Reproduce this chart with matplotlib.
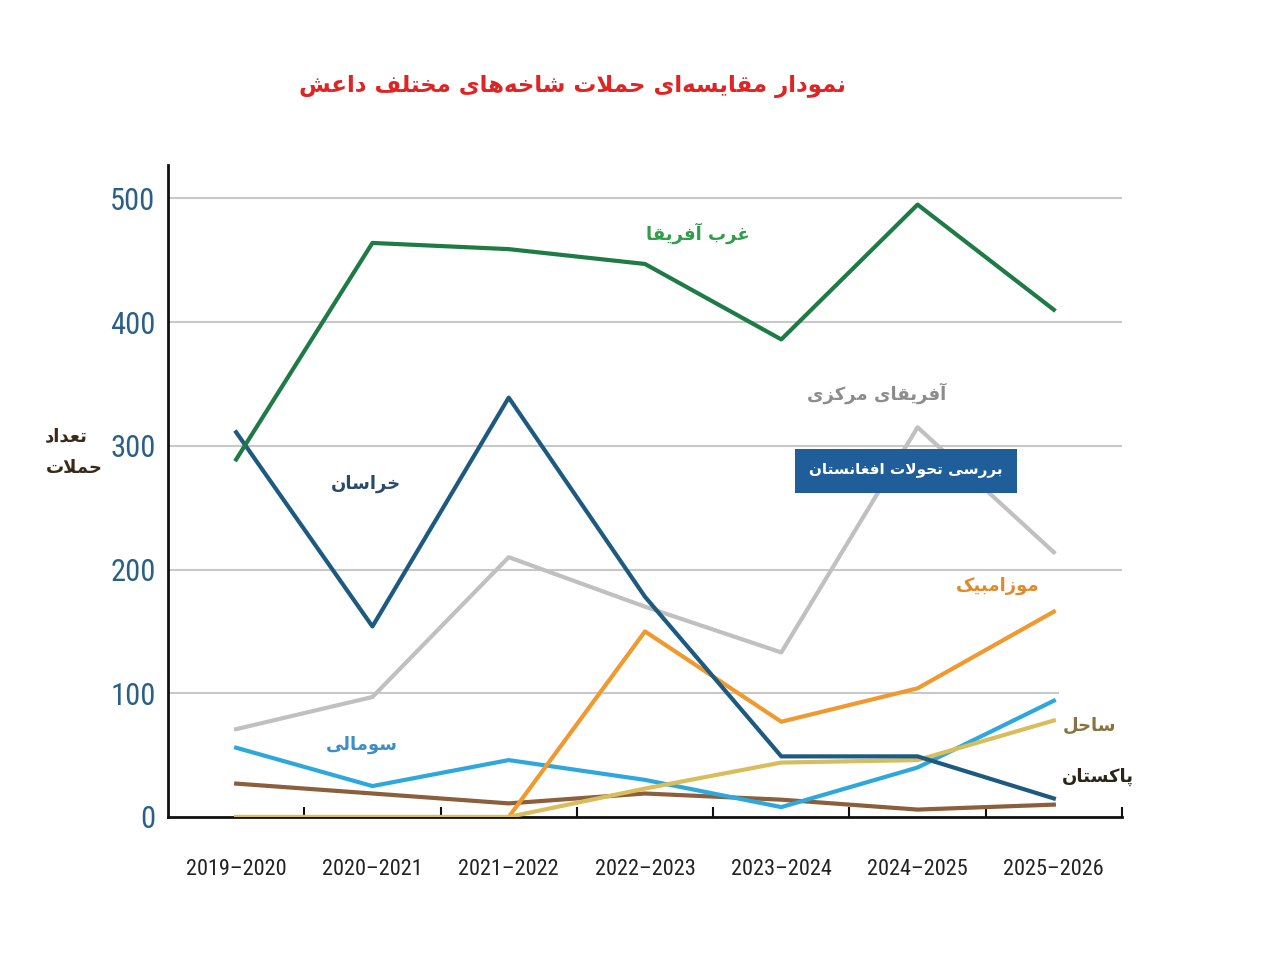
import matplotlib
matplotlib.use("Agg")
import matplotlib.pyplot as plt
from matplotlib.patches import Rectangle

# ---------- data ----------
years = ["2019–2020", "2020–2021", "2021–2022", "2022–2023",
         "2023–2024", "2024–2025", "2025–2026"]
west_africa = [289, 464, 459, 447, 386, 495, 410]
khorasan = [311, 154, 339, 178, 49, 49, 15]
central_africa = [71, 97, 210, 170, 133, 315, 214]
mozambique = [0, 0, 0, 150, 77, 104, 166]
somalia = [56, 25, 46, 30, 8, 40, 94]
sahel = [0, 0, 0, 23, 44, 46, 78]
pakistan = [27, 19, 11, 19, 14, 6, 10]
y_ticks = [0, 100, 200, 300, 400, 500]

# ---------- minimal Persian shaping (matplotlib has no RTL layout) ----------
FORMS = {
    "ا": (0xFE8D, 0xFE8E), "آ": (0xFE81, 0xFE82), "د": (0xFEA9, 0xFEAA),
    "ر": (0xFEAD, 0xFEAE), "ز": (0xFEAF, 0xFEB0), "و": (0xFEED, 0xFEEE),
    "ب": (0xFE8F, 0xFE90, 0xFE91, 0xFE92), "پ": (0xFB56, 0xFB57, 0xFB58, 0xFB59),
    "ت": (0xFE95, 0xFE96, 0xFE97, 0xFE98), "ح": (0xFEA1, 0xFEA2, 0xFEA3, 0xFEA4),
    "خ": (0xFEA5, 0xFEA6, 0xFEA7, 0xFEA8), "س": (0xFEB1, 0xFEB2, 0xFEB3, 0xFEB4),
    "ش": (0xFEB5, 0xFEB6, 0xFEB7, 0xFEB8), "ع": (0xFEC9, 0xFECA, 0xFECB, 0xFECC),
    "غ": (0xFECD, 0xFECE, 0xFECF, 0xFED0), "ف": (0xFED1, 0xFED2, 0xFED3, 0xFED4),
    "ق": (0xFED5, 0xFED6, 0xFED7, 0xFED8), "ک": (0xFB8E, 0xFB8F, 0xFB90, 0xFB91),
    "ل": (0xFEDD, 0xFEDE, 0xFEDF, 0xFEE0), "م": (0xFEE1, 0xFEE2, 0xFEE3, 0xFEE4),
    "ن": (0xFEE5, 0xFEE6, 0xFEE7, 0xFEE8), "ه": (0xFEE9, 0xFEEA, 0xFEEB, 0xFEEC),
    "ی": (0xFBFC, 0xFBFD, 0xFBFE, 0xFBFF),
}
LAM_ALEF = {"ا": (0xFEFB, 0xFEFC), "آ": (0xFEF5, 0xFEF6)}


def fa(text):
    out, i, n = [], 0, len(text)
    while i < n:
        c = text[i]
        if c == "\u200c":
            i += 1
            continue
        if c not in FORMS:
            out.append(c)
            i += 1
            continue
        prev = text[i - 1] if i > 0 else ""
        con_prev = prev in FORMS and len(FORMS[prev]) == 4
        if c == "ل" and i + 1 < n and text[i + 1] in LAM_ALEF:
            out.append(chr(LAM_ALEF[text[i + 1]][1 if con_prev else 0]))
            i += 2
            continue
        nxt = text[i + 1] if i + 1 < n else ""
        f = FORMS[c]
        con_next = len(f) == 4 and nxt in FORMS
        if con_prev and con_next:
            code = f[3]
        elif con_prev:
            code = f[1]
        elif con_next:
            code = f[2]
        else:
            code = f[0]
        out.append(chr(code))
        i += 1
    return "".join(reversed(out))


W, H = 1280, 956


def fx(x):
    return x / W


def fy(y):
    return 1 - y / H


AR = ["DejaVu Sans"]
NUM = ["Roboto Condensed", "Liberation Sans Narrow", "DejaVu Sans"]

fig = plt.figure(figsize=(12.8, 9.56), dpi=100)
ax = fig.add_axes([fx(168), fy(817), fx(1122) - fx(168), fy(165) - fy(817)])

x = list(range(len(years)))
ax.plot(x, central_africa, color="#c0c0c0", lw=3, zorder=3)
ax.plot(x, pakistan, color="#8c5e3c", lw=3, zorder=3)
ax.plot(x, somalia, color="#2ea8dc", lw=3, zorder=3)
ax.plot(x, mozambique, color="#f0992e", lw=3, zorder=3)
ax.plot(x, sahel, color="#d8bd5c", lw=3, zorder=3)
ax.plot(x, khorasan, color="#1d5a80", lw=3, zorder=3)
ax.plot(x, west_africa, color="#1e7b45", lw=3, zorder=3)

ax.set_xlim(-0.5, len(years) - 0.5)
ax.set_ylim(0, 527)
ax.set_yticks(y_ticks)
ax.set_yticklabels([str(v) for v in y_ticks], family=NUM, fontsize=22,
                   fontstretch="condensed", color="#2a6088")
ax.tick_params(axis="y", length=0, pad=9)
ax.set_xticks(x)
ax.set_xticklabels(years, family=NUM, fontsize=16, fontstretch="condensed",
                   color="#222222")
ax.tick_params(axis="x", which="major", length=0, pad=30)
ax.set_xticks([i + 0.5 for i in x], minor=True)
ax.tick_params(axis="x", which="minor", direction="in", length=7, width=1.5,
               color="#111111")
for v in y_ticks[1:]:
    ax.axhline(v, color="#c8c8c8", lw=1.5, zorder=1)
for s in ("top", "right"):
    ax.spines[s].set_visible(False)
for s in ("left", "bottom"):
    ax.spines[s].set_linewidth(2)
    ax.spines[s].set_color("#111111")

# ---------- texts ----------
fig.text(fx(572), fy(86), fa("نمودار مقایسه‌ای حملات شاخه‌های مختلف داعش"),
         family=AR, weight="bold", fontsize=16.5, color="#e02424",
         ha="center", va="center")
fig.text(fx(66), fy(436), fa("تعداد"), family=AR, weight="bold", fontsize=13,
         color="#3a2a1a", ha="center", va="center")
fig.text(fx(74), fy(468), fa("حملات"), family=AR, weight="bold", fontsize=13,
         color="#3a2a1a", ha="center", va="center")

# white patch behind the Sahel / Pakistan labels (hides the grid tail)
fig.patches.append(Rectangle((fx(1059), fy(805)), fx(1135) - fx(1059),
                             fy(685) - fy(805), transform=fig.transFigure,
                             facecolor="white", edgecolor="none", zorder=4))

labels = [
    ("غرب آفریقا", 698, 233, "#2e9e48"),
    ("آفریقای مرکزی", 877, 393, "#8c8c8c"),
    ("خراسان", 366, 484, "#2a4a6b"),
    ("موزامبیک", 998, 586, "#e08a2a"),
    ("سومالی", 362, 745, "#3d8ec9"),
    ("ساحل", 1090, 726, "#8a7240"),
    ("پاکستان", 1098, 777, "#2b2418"),
]
for txt, px, py, col in labels:
    fig.text(fx(px), fy(py), fa(txt), family=AR, weight="bold", fontsize=13,
             color=col, ha="center", va="center", zorder=6)

fig.patches.append(Rectangle((fx(795), fy(493)), fx(1017) - fx(795),
                             fy(449) - fy(493), transform=fig.transFigure,
                             facecolor="#1f5e99", edgecolor="none", zorder=5))
fig.text(fx(906), fy(470), fa("بررسی تحولات افغانستان"), family=AR,
         weight="bold", fontsize=11, color="white", ha="center", va="center",
         zorder=6)

fig.savefig("out.png", dpi=100)
